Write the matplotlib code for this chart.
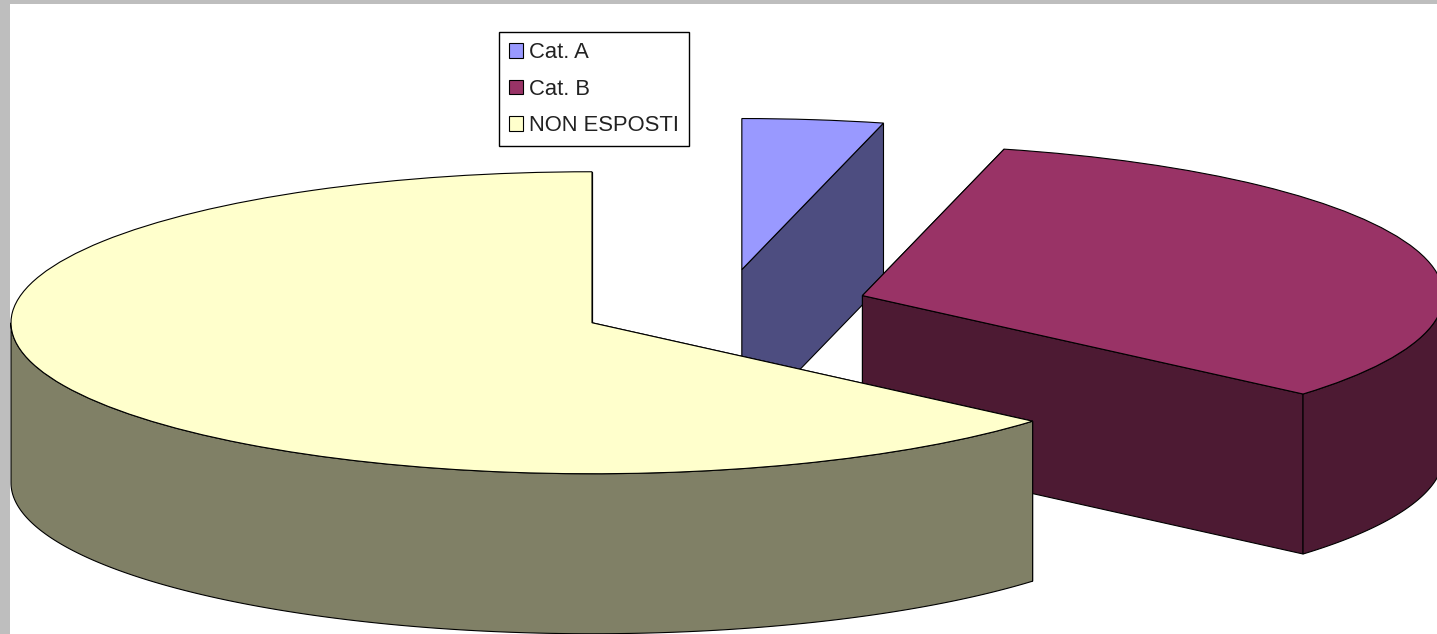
# -*- coding: utf-8 -*-
# torta 3D esplosa, come quella di Excel

import numpy as np
import matplotlib
matplotlib.use('Agg')
import matplotlib.pyplot as plt

labels = ['Cat. A', 'Cat. B', 'NON ESPOSTI']
values = [3.92, 32.38, 63.7]
explode = [0.25, 0.25, 0.25]
top_colors = ['#9999FF', '#993366', '#FFFFCC']
side_colors = ['#4D4D80', '#4D1A33', '#808066']

W, H = 1437, 634
cx, cy = 724, 307      # centro della torta in pixel
rx, ry = 581, 151      # semiassi dell'ellisse in pixel
depth = 160 / ry       # spessore in unita' di raggio verticale
edge = 0.8

plt.rcParams['font.family'] = ['Liberation Sans', 'DejaVu Sans']

fig = plt.figure(figsize=(W / 100, H / 100), dpi=100, facecolor='#BEBEBE')
ax = fig.add_axes([10 / W, 0, (W - 10) / W, (H - 4) / H])

wedges, _ = ax.pie(values, explode=explode, colors=top_colors, startangle=90, counterclock=False,
                   frame=True, wedgeprops={'edgecolor': 'black', 'linewidth': edge})

ax.set_aspect('auto')
ax.set_xlim((10 - cx) / rx, (W - cx) / rx)
ax.set_ylim((cy - H) / ry, (cy - 4) / ry)
ax.set_xticks([])
ax.set_yticks([])
for s in ax.spines.values():
    s.set_visible(False)

total = sum(values)
start = 0.0
z = 1
for i in range(len(values)):
    end = start + 360.0 * values[i] / total
    mid = np.radians((start + end) / 2)
    ox = explode[i] * np.sin(mid)
    oy = explode[i] * np.cos(mid)

    # facce radiali: prima quella nascosta, poi l'altra
    for a in (start, end):
        px = ox + np.sin(np.radians(a))
        py = oy + np.cos(np.radians(a))
        ax.fill([ox, px, px, ox], [oy, py, py - depth, oy - depth], facecolor=side_colors[i],
                edgecolor='black', linewidth=edge, zorder=z)

    # parete esterna, solo la parte davanti (tra 90 e 270 gradi)
    a0, a1 = max(start, 90.0), min(end, 270.0)
    if a1 > a0:
        t = np.radians(np.linspace(a0, a1, 200))
        x = ox + np.sin(t)
        y = oy + np.cos(t)
        ax.fill(np.r_[x, x[::-1]], np.r_[y, y[::-1] - depth], facecolor=side_colors[i],
                edgecolor='black', linewidth=edge, zorder=z + 1)

    wedges[i].set_zorder(z + 2)
    z += 3
    start = end

leg = ax.legend(wedges, labels, loc='upper left', bbox_to_anchor=(499 / W, 1 - 32 / H),
                bbox_transform=fig.transFigure, fontsize=15.8, frameon=True, fancybox=False,
                framealpha=1, edgecolor='black', borderaxespad=0, borderpad=0.45,
                labelspacing=0.72, handlelength=0.66, handleheight=0.66, handletextpad=0.24,
                labelcolor='#222222')
leg.get_frame().set_linewidth(1.0)
leg.set_zorder(50)

fig.savefig('out.png', dpi=100, facecolor=fig.get_facecolor())
